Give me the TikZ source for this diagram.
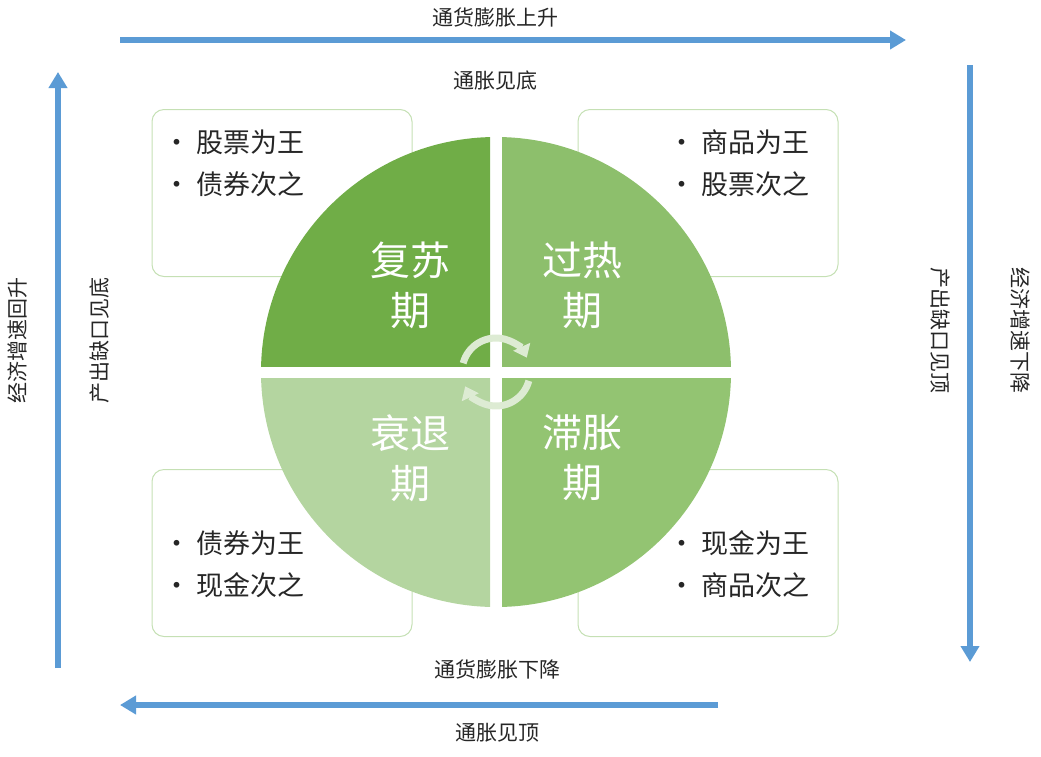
\documentclass[tikz,border=0pt]{standalone}
\usepackage{fontspec}
\setmainfont{Noto Sans CJK SC}
\usetikzlibrary{arrows.meta}
\definecolor{ablue}{HTML}{5B9BD5}
\definecolor{gA}{HTML}{70AD47}
\definecolor{gB}{HTML}{8DBF6C}
\definecolor{gC}{HTML}{B4D5A0}
\definecolor{gD}{HTML}{93C472}
\definecolor{bord}{HTML}{C5E0B4}
\definecolor{arcc}{HTML}{DDEBD3}
\begin{document}
\begin{tikzpicture}[x=1pt,y=-1pt,
  bigarrow/.style={ablue,line width=6pt,-{Triangle[length=16pt,width=18pt]}},
  lbl/.style={font=\fontsize{21pt}{23pt}\selectfont,text=black!85},
  box/.style={draw=bord,line width=1pt,rounded corners=12pt,minimum width=260pt,minimum height=167pt},
  btxt/.style={font=\fontsize{27pt}{42pt}\selectfont,align=left,text=black!85},
  big/.style={font=\fontsize{40pt}{50pt}\selectfont,text=white,align=center},
  carr/.style={arcc,line width=7pt,-{Triangle[length=12pt,width=18pt]}}]
\useasboundingbox (0,0) rectangle (1041,756);
% boxes
\node[box] (b1) at (282,193) {};
\node[box] (b2) at (708,193) {};
\node[box] (b3) at (282,553) {};
\node[box] (b4) at (708,553) {};
\node[btxt,anchor=north west] (t1) at (160,126) {• 股票为王\\• 债券次之};
\node[btxt,anchor=north west] (t2) at (665,126) {• 商品为王\\• 股票次之};
\node[btxt,anchor=north west] (t3) at (160,527) {• 债券为王\\• 现金次之};
\node[btxt,anchor=north west] (t4) at (665,527) {• 现金为王\\• 商品次之};
% quadrants
\coordinate (c) at (496,372);
\begin{scope}\clip (0,0) rectangle (490,366); \fill[gA] (c) circle (235);\end{scope}
\begin{scope}\clip (502,0) rectangle (1041,366); \fill[gB] (c) circle (235);\end{scope}
\begin{scope}\clip (0,378) rectangle (490,756); \fill[gC] (c) circle (235);\end{scope}
\begin{scope}\clip (502,378) rectangle (1041,756); \fill[gD] (c) circle (235);\end{scope}
\node[big] (q1) at (410,285) {复苏\\期};
\node[big] (q2) at (582,285) {过热\\期};
\node[big] (q3) at (410,458) {衰退\\期};
\node[big] (q4) at (582,458) {滞胀\\期};
% cycle arrows
\draw[carr] ([shift={(195:34)}]c) arc (195:335:34);
\draw[carr] ([shift={(15:34)}]c) arc (15:155:34);
% outer arrows
\coordinate (a1) at (120,40); \coordinate (a2) at (906,40);
\coordinate (r1) at (970,65); \coordinate (r2) at (970,662);
\coordinate (d1) at (718,705); \coordinate (d2) at (120,705);
\coordinate (l1) at (58,668); \coordinate (l2) at (58,72);
\draw[bigarrow] (a1) -- (a2);
\draw[bigarrow] (r1) -- (r2);
\draw[bigarrow] (d1) -- (d2);
\draw[bigarrow] (l1) -- (l2);
\node[lbl] (n1) at (495,18) {通货膨胀上升};
\node[lbl] (n2) at (495,81) {通胀见底};
\node[lbl] (n3) at (497,670) {通货膨胀下降};
\node[lbl] (n4) at (497,733) {通胀见顶};
\node[lbl,rotate=-90] (n5) at (1020,330) {经济增速下降};
\node[lbl,rotate=-90] (n6) at (940,330) {产出缺口见顶};
\node[lbl,rotate=90] (n7) at (18,340) {经济增速回升};
\node[lbl,rotate=90] (n8) at (100,340) {产出缺口见底};
\end{tikzpicture}
\end{document}
